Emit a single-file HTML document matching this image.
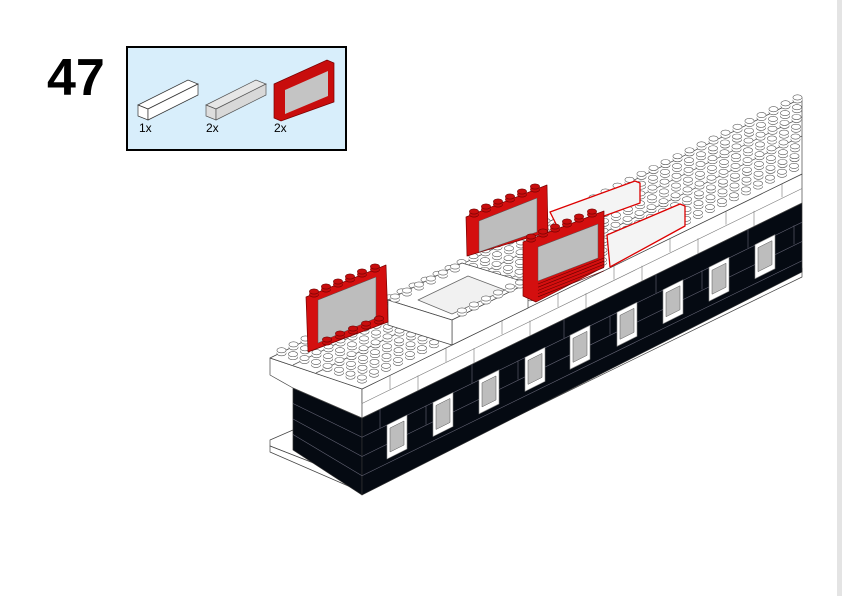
<!DOCTYPE html>
<html><head><meta charset="utf-8"><style>
html,body{margin:0;padding:0;background:#fff;width:842px;height:596px;overflow:hidden}
svg{display:block}
</style></head><body>
<svg id="s" width="842" height="596" viewBox="0 0 842 596" xmlns="http://www.w3.org/2000/svg" font-family="Liberation Sans, sans-serif">
<rect x="0" y="0" width="842" height="596" fill="#fff"/>
<rect x="837" y="0" width="5" height="596" fill="#e4e4e4"/>
<text x="47" y="95" font-size="52" font-weight="bold" fill="#000">47</text>
<rect x="127" y="47" width="219" height="103" fill="#d8eefb" stroke="#000" stroke-width="2"/>
<polygon points="138,105 188,80 198,84 148,109" fill="#fff" stroke="#333" stroke-width="0.7"/>
<polygon points="138,105 148,109 148,120 138,116" fill="#fff" stroke="#333" stroke-width="0.7"/>
<polygon points="148,109 198,84 198,95 148,120" fill="#fff" stroke="#333" stroke-width="0.7"/>
<polygon points="206,105 256,80 266,84 216,109" fill="#e6e6e6" stroke="#555" stroke-width="0.7"/>
<polygon points="206,105 216,109 216,120 206,116" fill="#ddd" stroke="#555" stroke-width="0.7"/>
<polygon points="216,109 266,84 266,95 216,120" fill="#d8d8d8" stroke="#555" stroke-width="0.7"/>
<polygon points="274,84 327,60 334,63 334,102 281,121 274,118" fill="#c80d0d" stroke="#700" stroke-width="0.7"/>
<polygon points="285,90 328,71 328,96 285,114" fill="#c4c4c4"/>
<text x="139" y="132" font-size="12" fill="#000">1x</text>
<text x="206" y="132" font-size="12" fill="#000">2x</text>
<text x="274" y="132" font-size="12" fill="#000">2x</text>
<g id="m" stroke="#444" stroke-width="0.7" stroke-linejoin="round"></g>
</svg>
<script>
var g=document.getElementById('m'),NS='http://www.w3.org/2000/svg';
function P(pts,fill,stroke,sw){var e=document.createElementNS(NS,'polygon');e.setAttribute('points',pts);e.setAttribute('fill',fill);if(stroke)e.setAttribute('stroke',stroke);if(sw)e.setAttribute('stroke-width',sw);g.appendChild(e);return e;}
function L(x1,y1,x2,y2,c,w){var e=document.createElementNS(NS,'line');e.setAttribute('x1',x1);e.setAttribute('y1',y1);e.setAttribute('x2',x2);e.setAttribute('y2',y2);e.setAttribute('stroke',c);if(w)e.setAttribute('stroke-width',w);g.appendChild(e);}
function E(x,y,rx,ry,f,s){var e=document.createElementNS(NS,'ellipse');e.setAttribute('cx',x);e.setAttribute('cy',y);e.setAttribute('rx',rx);e.setAttribute('ry',ry);e.setAttribute('fill',f);e.setAttribute('stroke',s||'#555');e.setAttribute('stroke-width',0.6);g.appendChild(e);}
function stud(x,y,f,s){E(x,y+1.5,4.6,2.6,f||'#fff',s);var r=document.createElementNS(NS,'rect');r.setAttribute('x',x-4.6);r.setAttribute('y',y-1.5);r.setAttribute('width',9.2);r.setAttribute('height',3);r.setAttribute('fill',f||'#fff');r.setAttribute('stroke','none');g.appendChild(r);E(x,y-1.5,4.6,2.6,f||'#fff',s);}
var k=-0.49;
P('270,440 293,430 362,470 362,482 270,446','#fff');
P('270,446 362,482 362,492 270,452','#fff');
P('362,482 802,268 802,277 362,492','#fff');
P('293,388 362,418 362,495 293,450','#050a12','#333');
P('362,418 802,203 802,272 362,495','#050a12','#333');
for(var t=1;t<4;t++){var yy=418+t*19.25;L(362,yy,802,yy-215,'#667',0.6);L(293,388+t*15.5,362,418+t*19.25,'#667',0.6);}
for(var x=380;x<800;x+=46){var y0=418+(x-362)*k;L(x,y0+((x/46|0)%2)*19,x,y0+((x/46|0)%2)*19+19,'#667',0.6);}
[397,443,489,535,580,627,673,719,765].forEach(function(x){var yc=437+k*(x-397);
P((x-10)+','+(yc-12)+' '+(x+10)+','+(yc-22)+' '+(x+10)+','+(yc+12)+' '+(x-10)+','+(yc+22),'#fff','#888',0.6);
P((x-7)+','+(yc-9)+' '+(x+7)+','+(yc-16)+' '+(x+7)+','+(yc+8)+' '+(x-7)+','+(yc+15),'#bdbdbd','#555',0.5);});
P('270,358 362,389 362,418 293,388 270,375','#fff');
P('362,389 802,174 802,203 362,418','#fff');
for(var x=362;x<802;x+=28){L(x,389+(x-362)*k+((x/28|0)%2?0:14),x,389+(x-362)*k+((x/28|0)%2?14:29),'#777',0.6);}
L(362,403.5,802,188.5,'#777',0.6);
P('270,358 362,389 802,174 802,98','#fff');
L(316,373,802,136,'#555',0.7);L(293,365,802,117,'#555',0.7);
for(var j=7;j>=0;j--){for(var i=0;i<44;i++){var x=362+i*12+6-j*11.5-6,y=389+(i*12+6)*k-j*3.9-7;
if(x>800)continue;
stud(x,y);}}
P('388,300 462,263 528,283 452,320','#fff');
P('452,320 528,283 528,308 452,345','#fff');
P('388,300 452,320 452,345 388,325','#fff');
P('418,300 468,276 505,290 452,314','#f1f1f1','#666');
[[395,298],[407,292],[419,286],[431,280],[443,274],[455,268],[462,312],[474,306],[486,300],[498,294],[510,288],[520,284]].forEach(function(p){stud(p[0],p[1]);});
P('306,297 386,265 388,322 308,352','#d40f0f','#700');
P('318,300 376,277 376,318 318,343','#bdbdbd','#555',0.5);
[[314,293],[326,288],[338,283],[350,278],[362,273],[375,268]].forEach(function(p){stud(p[0],p[1],'#c80d0d','#600');});
[[327,341],[340,335],[353,330],[366,325],[379,320]].forEach(function(p){stud(p[0],p[1],'#c80d0d','#600');});
P('466,217 547,185 548,232 467,256','#d40f0f','#700');
P('479,221 537,198 537,232 479,252','#bdbdbd','#555',0.5);
[[474,213],[486,208],[498,203],[510,198],[522,193],[535,188]].forEach(function(p){stud(p[0],p[1],'#c80d0d','#600');});
P('550,212 635,181 640,183 640,203 560,232','#f4f4f4','#d00',1.3);
P('607,235 680,204 685,206 685,226 610,267','#f4f4f4','#d00',1.3);
P('523,242 604,211 604,267 536,302 523,296','#d40f0f','#700');
P('538,247 598,224 598,258 538,281','#bdbdbd','#555',0.5);
for(var t=0;t<5;t++)L(538,284+t*3.2,604,258+t*3.2,'#600',0.6);
[[531,238],[543,233],[555,228],[567,223],[579,218],[592,213]].forEach(function(p){stud(p[0],p[1],'#c80d0d','#600');});
</script>
</body></html>
